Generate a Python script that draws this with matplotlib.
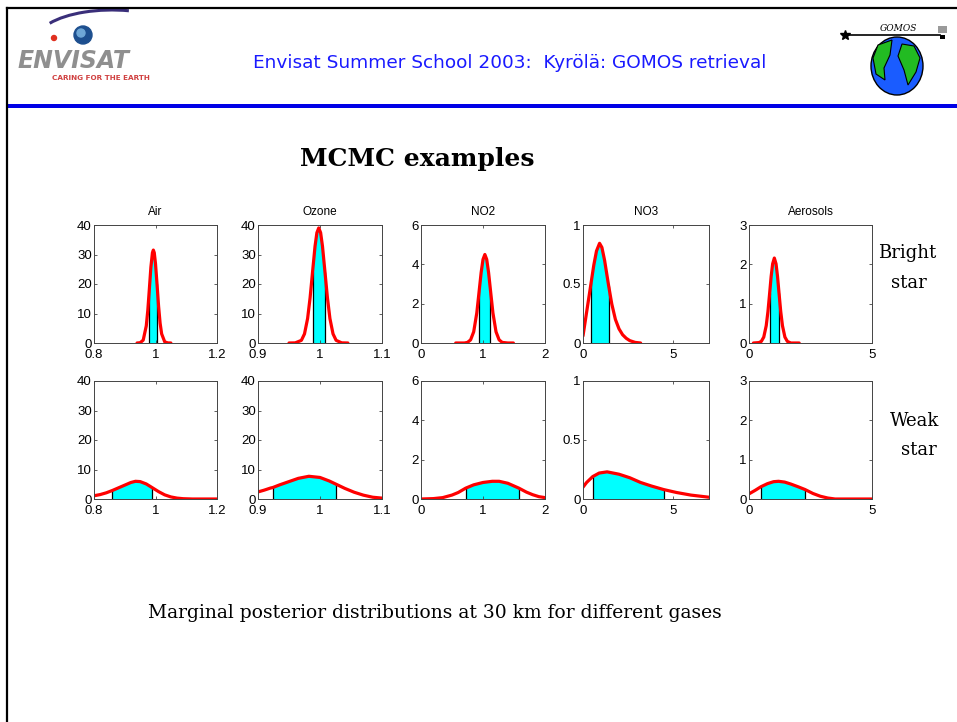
import numpy as np
import matplotlib
matplotlib.use("Agg")
import matplotlib.pyplot as plt
from matplotlib.patches import Ellipse, Polygon, Rectangle, Arc, Circle

W, H = 957, 722

gases = ["Air", "Ozone", "NO2", "NO3", "Aerosols"]
xlims = [(0.8, 1.2), (0.9, 1.1), (0, 2), (0, 7), (0, 5)]
ylims = [(0, 40), (0, 40), (0, 6), (0, 1), (0, 3)]
xticks = [[0.8, 1, 1.2], [0.9, 1, 1.1], [0, 1, 2], [0, 5], [0, 5]]
yticks = [[0, 10, 20, 30, 40], [0, 10, 20, 30, 40], [0, 2, 4, 6], [0, 0.5, 1], [0, 1, 2, 3]]
xticklabels = [["0.8", "1", "1.2"], ["0.9", "1", "1.1"], ["0", "1", "2"], ["0", "5"], ["0", "5"]]
yticklabels = [["0", "10", "20", "30", "40"], ["0", "10", "20", "30", "40"], ["0", "2", "4", "6"],
               ["0", "0.5", "1"], ["0", "1", "2", "3"]]

# bright star posteriors
air_bright_x = [0.94, 0.95, 0.96, 0.97, 0.975, 0.98, 0.985, 0.99, 0.993, 0.996, 1.0, 1.005, 1.01, 1.015, 1.02, 1.03, 1.04, 1.05]
air_bright_y = [0.0, 0.08, 0.97, 5.8, 11.1, 18.3, 25.7, 30.6, 31.5, 30.6, 26.9, 19.9, 12.5, 6.7, 3.1, 0.39, 0.03, 0.0]
air_bright_ci = (0.98, 1.005)

ozone_bright_x = [0.95, 0.96, 0.97, 0.975, 0.98, 0.984, 0.988, 0.992, 0.995, 0.998, 1.001, 1.004, 1.008, 1.012, 1.016, 1.021, 1.026, 1.035, 1.045]
ozone_bright_y = [0.0, 0.04, 0.9, 3.1, 8.3, 15.3, 24.1, 32.8, 37.4, 39.0, 37.4, 32.8, 24.1, 15.3, 8.3, 3.1, 0.9, 0.05, 0.0]
ozone_bright_ci = (0.988, 1.008)

no2_bright_x = [0.56, 0.7, 0.75, 0.8, 0.85, 0.9, 0.94, 0.97, 1.0, 1.03, 1.06, 1.09, 1.12, 1.16, 1.21, 1.26, 1.31, 1.4, 1.49]
no2_bright_y = [0.0, 0.0, 0.03, 0.16, 0.57, 1.53, 2.7, 3.58, 4.25, 4.5, 4.25, 3.58, 2.7, 1.53, 0.57, 0.16, 0.03, 0.0, 0.0]
no2_bright_ci = (0.94, 1.12)

no3_bright_x = [0.0, 0.1, 0.2, 0.3, 0.46, 0.6, 0.75, 0.92, 1.05, 1.2, 1.43, 1.6, 1.8, 2.0, 2.2, 2.4, 2.6, 2.9, 3.2]
no3_bright_y = [0.06, 0.16, 0.26, 0.36, 0.52, 0.66, 0.78, 0.845, 0.81, 0.7, 0.48, 0.33, 0.2, 0.12, 0.07, 0.04, 0.02, 0.005, 0.0]
no3_bright_ci = (0.46, 1.43)

aero_bright_x = [0.18, 0.4, 0.5, 0.6, 0.7, 0.77, 0.84, 0.9, 0.96, 1.03, 1.1, 1.16, 1.22, 1.29, 1.36, 1.46, 1.56, 1.7, 2.04]
aero_bright_y = [0.0, 0.01, 0.04, 0.15, 0.44, 0.8, 1.27, 1.69, 2.01, 2.16, 2.01, 1.69, 1.27, 0.8, 0.44, 0.15, 0.04, 0.0, 0.0]
aero_bright_ci = (0.84, 1.22)

# weak star posteriors
air_weak_x = [0.8, 0.82, 0.84, 0.86, 0.88, 0.9, 0.92, 0.935, 0.95, 0.97, 0.99, 1.01, 1.03, 1.05, 1.07, 1.09, 1.12, 1.2]
air_weak_y = [1.1, 1.5, 2.1, 2.9, 3.8, 4.7, 5.6, 6.0, 5.9, 5.1, 3.8, 2.5, 1.4, 0.7, 0.3, 0.1, 0.0, 0.0]
air_weak_ci = (0.86, 0.99)

ozone_weak_x = [0.9, 0.91, 0.92, 0.924, 0.935, 0.95, 0.965, 0.982, 1.0, 1.015, 1.025, 1.04, 1.055, 1.07, 1.085, 1.1]
ozone_weak_y = [2.4, 3.0, 3.7, 3.9, 4.8, 5.9, 7.0, 7.7, 7.3, 6.1, 5.1, 3.6, 2.3, 1.3, 0.6, 0.3]
ozone_weak_ci = (0.924, 1.025)

no2_weak_x = [0.0, 0.2, 0.35, 0.5, 0.6, 0.72, 0.85, 1.0, 1.15, 1.26, 1.4, 1.58, 1.7, 1.8, 1.9, 2.0]
no2_weak_y = [0.0, 0.02, 0.07, 0.2, 0.33, 0.55, 0.72, 0.84, 0.9, 0.9, 0.8, 0.55, 0.35, 0.22, 0.12, 0.07]
no2_weak_ci = (0.72, 1.58)

no3_weak_x = [0.0, 0.2, 0.54, 0.9, 1.34, 2.0, 2.6, 3.2, 3.8, 4.48, 5.2, 6.0, 7.0]
no3_weak_y = [0.1, 0.14, 0.19, 0.22, 0.23, 0.21, 0.18, 0.14, 0.11, 0.08, 0.055, 0.033, 0.015]
no3_weak_ci = (0.54, 4.48)

aero_weak_x = [0.0, 0.25, 0.48, 0.75, 1.0, 1.2, 1.45, 1.7, 2.0, 2.28, 2.6, 2.9, 3.2, 3.5, 4.0, 5.0]
aero_weak_y = [0.13, 0.22, 0.31, 0.39, 0.44, 0.45, 0.43, 0.38, 0.31, 0.24, 0.14, 0.07, 0.025, 0.0, 0.0, 0.0]
aero_weak_ci = (0.48, 2.28)

bright = [(air_bright_x, air_bright_y, air_bright_ci),
          (ozone_bright_x, ozone_bright_y, ozone_bright_ci),
          (no2_bright_x, no2_bright_y, no2_bright_ci),
          (no3_bright_x, no3_bright_y, no3_bright_ci),
          (aero_bright_x, aero_bright_y, aero_bright_ci)]
weak = [(air_weak_x, air_weak_y, air_weak_ci),
        (ozone_weak_x, ozone_weak_y, ozone_weak_ci),
        (no2_weak_x, no2_weak_y, no2_weak_ci),
        (no3_weak_x, no3_weak_y, no3_weak_ci),
        (aero_weak_x, aero_weak_y, aero_weak_ci)]

fig = plt.figure(figsize=(W / 100, H / 100), dpi=100)

# full-figure overlay in pixel coordinates for the slide decorations
bg = fig.add_axes([0, 0, 1, 1])
bg.set_xlim(0, W)
bg.set_ylim(H, 0)
bg.axis("off")

# slide frame and header rule
bg.plot([7, W], [7.5, 7.5], color="black", lw=1.6)
bg.plot([7, 7], [7.5, H], color="black", lw=1.6)
bg.add_patch(Rectangle((7, 104), W - 7, 3.5, color="#0000e6", lw=0))

# ENVISAT logo
bg.add_patch(Arc((112, 40), 150, 60, theta1=195, theta2=300, color="#3a2f7a", lw=2.2))
bg.add_patch(Circle((83, 35), 9, color="#1d4f8f"))
bg.add_patch(Circle((81, 33), 4, color="#6fa7d6"))
bg.add_patch(Circle((54, 38), 2.5, color="#e03020"))
bg.text(17, 68.5, "ENVISAT", fontsize=17, style="italic", weight="bold", color="#8f8f8f",
        family="DejaVu Sans", ha="left", va="baseline")
bg.text(52, 75.5, "CARING FOR THE EARTH", fontsize=5.2, color="#d04040",
        family="DejaVu Sans", ha="left", va="top", weight="bold")

bg.text(253, 63, "Envisat Summer School 2003:  Kyrölä: GOMOS retrieval", fontsize=13.3,
        color="#1a1aff", family="DejaVu Sans", ha="left", va="center")

# GOMOS logo
bg.plot([845, 940], [35, 35], color="black", lw=1.2)
bg.plot([845], [35], marker="*", color="black", ms=7)
bg.add_patch(Rectangle((938, 26), 9, 7, color="#9a9a9a", lw=0))
bg.add_patch(Rectangle((940, 35), 5, 4, color="black", lw=0))
bg.text(898, 31, "GOMOS", fontsize=6.5, style="italic", family="DejaVu Serif",
        ha="center", va="baseline")
bg.add_patch(Ellipse((897, 66), 52, 58, facecolor="#1a5cff", edgecolor="black", lw=1))
bg.add_patch(Polygon([[878, 45], [892, 40], [890, 55], [884, 68], [885, 80], [876, 74], [873, 58]],
                     facecolor="#22bb22", edgecolor="black", lw=0.8))
bg.add_patch(Polygon([[902, 44], [914, 46], [920, 58], [916, 72], [908, 85], [904, 70], [898, 56]],
                     facecolor="#22bb22", edgecolor="black", lw=0.8))

# titles and captions
bg.text(417, 159, "MCMC examples", fontsize=18, weight="bold", family="DejaVu Serif",
        ha="center", va="center")
bg.text(907, 253, "Bright", fontsize=13, family="DejaVu Serif", ha="center", va="center")
bg.text(909, 283, "star", fontsize=13, family="DejaVu Serif", ha="center", va="center")
bg.text(915, 421, "Weak", fontsize=13, family="DejaVu Serif", ha="center", va="center")
bg.text(919, 450, "star", fontsize=13, family="DejaVu Serif", ha="center", va="center")
bg.text(435, 613, "Marginal posterior distributions at 30 km for different gases", fontsize=13.5,
        family="DejaVu Serif", ha="center", va="center")

lefts = [94, 258, 421, 583, 749]
widths = [123, 124, 124, 126, 123]
rows = [(225, 343, bright), (381, 499, weak)]

for r, (top, bottom, series) in enumerate(rows):
    for i in range(5):
        ax = fig.add_axes([lefts[i] / W, 1 - bottom / H, widths[i] / W, (bottom - top) / H])
        x = np.array(series[i][0])
        y = np.array(series[i][1])
        lo, hi = series[i][2]
        inside = (x >= lo) & (x <= hi)
        ax.fill_between(x, y, where=inside, color="#00ffff", lw=0, interpolate=False)
        ax.vlines([lo, hi], 0, [y[x == lo][0], y[x == hi][0]], color="black", lw=0.9)
        ax.plot(x, y, color="#ff0000", lw=2.3, solid_joinstyle="round", solid_capstyle="round")
        ax.set_xlim(*xlims[i])
        ax.set_ylim(*ylims[i])
        ax.set_xticks(xticks[i])
        ax.set_xticklabels(xticklabels[i])
        ax.set_yticks(yticks[i])
        ax.set_yticklabels(yticklabels[i])
        ax.tick_params(direction="in", top=True, right=True, length=2.5, width=0.6,
                       labelsize=9.5, color="#444444")
        ax.tick_params(axis="x", pad=4.5)
        ax.tick_params(axis="y", pad=1.5)
        for lab in ax.get_xticklabels() + ax.get_yticklabels():
            lab.set_family("Liberation Sans")
        for sp in ax.spines.values():
            sp.set_linewidth(0.7)
            sp.set_color("#444444")
        if r == 0:
            ax.set_title(gases[i], fontsize=8.5, family="Liberation Sans", pad=7)

fig.savefig("out.png", dpi=100)
